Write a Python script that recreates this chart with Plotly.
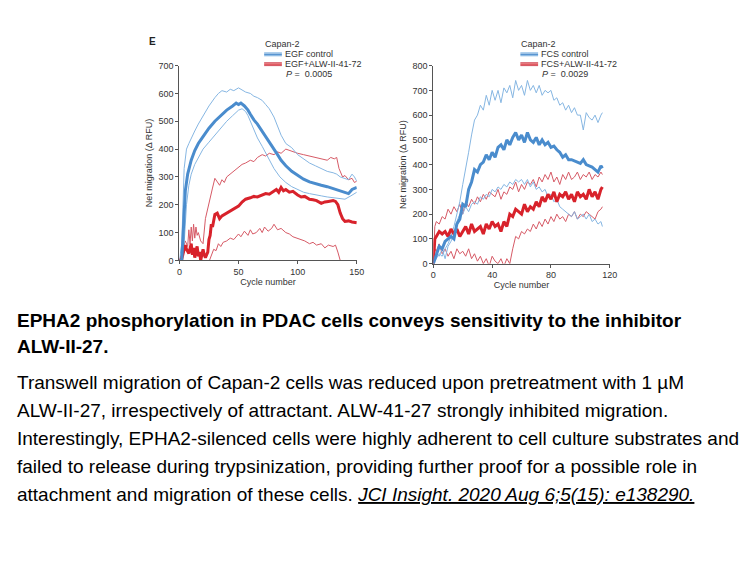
import plotly.graph_objects as go

# ---------------- data: left panel (EGF) ----------------
egf_ctrl_x = [0,2,3,4,5,7,10,13,16,20,25,30,35,40,45,48,50,52,55,58,60,63,66,70,73,76,80,83,86,90,95,100,105,110,115,120,125,130,135,140,143,146,150]
egf_ctrl_y = [0,0,80,180,250,310,360,395,420,445,475,500,520,540,555,565,560,565,555,540,525,505,490,465,445,425,400,380,360,340,320,305,292,282,275,270,265,258,252,245,240,255,262]

egf_ctrl_hi_x = [0,2,4,6,8,10,13,16,20,25,30,33,36,40,43,46,50,53,56,60,63,66,70,73,76,80,83,86,90,95,100,105,110,115,120,125,130,133,136,140,143,146,148,150]
egf_ctrl_hi_y = [0,60,330,400,420,440,465,490,520,555,585,600,610,605,615,610,620,612,605,600,590,585,575,560,545,515,480,450,420,405,380,365,350,340,330,320,315,310,300,295,290,310,300,285]

egf_ctrl_lo_x = [0,2,4,6,8,10,13,16,20,25,30,35,40,45,50,53,56,58,60,63,66,70,73,76,80,85,90,95,100,105,110,115,120,125,130,135,140,145,150]
egf_ctrl_lo_y = [0,0,60,200,270,310,345,370,400,425,450,475,500,520,540,545,535,520,500,470,440,410,385,360,330,300,280,265,255,245,240,235,232,228,225,222,220,232,245]

egf_alw_x = [0,2,4,5,6,8,10,11,12,13,14,15,16,17,18,20,21,22,24,25,26,27,28,30,32,34,36,38,40,43,46,50,53,56,60,63,66,70,73,76,80,82,84,86,88,90,93,96,100,103,106,110,113,116,120,123,126,130,132,134,136,138,140,143,146,150]
egf_alw_y = [0,5,40,55,40,25,60,20,45,10,35,50,15,30,0,40,20,10,30,75,90,130,120,165,170,150,160,165,170,180,185,195,210,220,225,230,228,235,240,238,250,255,245,262,250,255,245,248,235,228,230,220,218,215,205,210,212,215,212,200,170,150,140,142,138,135]

egf_alw_hi_x = [0,3,5,7,8,9,10,11,12,13,14,15,16,18,20,22,24,26,28,30,32,34,36,38,40,43,46,50,53,56,60,63,66,70,73,76,80,83,86,90,93,96,100,105,110,115,120,125,128,131,133,135,138,140,143,146,148,150]
egf_alw_hi_y = [0,40,70,50,110,60,120,70,130,80,120,90,100,70,60,150,190,230,260,295,280,270,290,280,300,310,320,335,345,350,360,355,370,380,375,385,380,390,385,400,395,390,385,380,375,370,365,360,370,365,370,330,300,305,290,295,280,285]

egf_alw_lo_x = [0,5,10,15,20,25,27,29,31,33,35,37,40,43,46,50,52,55,58,60,62,65,68,70,72,75,78,80,83,86,90,93,96,100,103,106,110,113,116,120,123,126,130,132,134,136,138]
egf_alw_lo_y = [-40,-40,-40,-40,-40,-5,20,40,35,60,50,65,70,80,75,95,85,105,90,110,95,100,115,100,120,105,115,130,110,115,100,95,85,80,75,70,60,65,55,60,45,55,50,55,30,0,-30]

# ---------------- data: right panel (FCS) ----------------
fcs_x = [0,2,4,6,8,10,12,14,16,18,20,22,24,26,28,30,32,34,36,38,40,42,44,46,48,50,52,54,56,58,60,62,64,66,68,70,72,74,76,78,80,82,84,86,88,90,92,94,96,98,100,102,104,106,108,110,112,114,115]
fcs_ctrl_y = [0,40,70,60,90,100,110,100,160,180,240,230,300,330,380,370,400,410,440,420,450,430,470,480,460,500,480,510,530,500,520,490,530,500,490,510,480,500,480,490,470,475,460,450,430,440,420,420,415,410,405,420,400,395,390,380,370,395,385]
fcs_ctrl_hi_y = [0,20,40,30,60,80,110,150,200,250,320,380,450,520,580,600,640,620,680,640,700,660,700,650,710,690,720,670,740,700,720,680,740,700,720,690,720,680,700,690,700,660,670,640,650,620,640,610,630,600,600,540,610,590,580,600,570,600,610]
fcs_ctrl_lo_y = [0,40,30,60,20,70,90,120,170,200,200,230,210,240,250,240,270,260,280,270,300,290,310,300,320,310,330,320,340,330,340,320,340,310,330,300,310,290,300,270,280,250,260,230,220,210,200,190,210,180,190,200,180,200,170,180,160,170,150]

fcs_alw_x = [0,1,2,4,6,8,10,12,14,16,18,20,22,24,26,28,30,32,34,36,38,40,42,44,46,48,50,52,54,56,58,60,62,64,66,68,70,72,74,76,78,80,82,84,86,88,90,92,94,96,98,100,102,104,106,108,110,112,114,115]
fcs_alw_y = [0,100,110,130,120,130,110,140,120,140,110,130,150,120,160,130,140,150,120,160,140,170,150,160,130,170,150,200,190,220,210,200,240,210,230,220,250,230,270,250,280,260,290,250,280,270,290,260,280,250,290,270,280,260,300,270,290,260,300,310]
fcs_alw_hi_y = [0,150,170,160,190,180,220,200,230,210,240,200,250,230,260,240,270,250,280,260,290,280,270,300,260,290,280,310,300,330,290,320,300,330,320,340,310,350,330,360,340,370,330,350,320,360,340,370,340,350,370,340,360,350,370,340,360,350,370,360]
fcs_alw_lo_y = [0,60,50,80,40,60,30,50,20,60,40,50,30,60,20,40,10,30,0,20,-10,30,10,0,20,-10,20,0,60,110,100,130,120,140,130,160,140,170,150,180,160,190,170,200,180,190,170,200,190,210,180,200,190,210,200,190,180,210,220,230]

left_xticks = [0, 50, 100, 150]
right_xticks = [0, 40, 80, 120]

BLUE = "#4a8ccd"
BLUE_T = "#86b6e2"
RED = "#d8222b"
RED_T = "#d65a66"

fig = go.Figure()

def add(x, y, color, width, xa, ya):
    n = min(len(x), len(y))
    fig.add_trace(go.Scatter(x=x[:n], y=y[:n], mode="lines",
                             line=dict(color=color, width=width),
                             xaxis=xa, yaxis=ya, showlegend=False,
                             hoverinfo="skip"))

# left panel
add(egf_alw_lo_x, egf_alw_lo_y, RED_T, 1, "x", "y")
add(egf_alw_hi_x, egf_alw_hi_y, RED_T, 1, "x", "y")
add(egf_ctrl_lo_x, egf_ctrl_lo_y, BLUE_T, 1, "x", "y")
add(egf_ctrl_hi_x, egf_ctrl_hi_y, BLUE_T, 1, "x", "y")
add(egf_alw_x, egf_alw_y, RED, 3, "x", "y")
add(egf_ctrl_x, egf_ctrl_y, BLUE, 3, "x", "y")
# right panel
add(fcs_alw_x, fcs_alw_lo_y, RED_T, 1, "x2", "y2")
add(fcs_alw_x, fcs_alw_hi_y, RED_T, 1, "x2", "y2")
add(fcs_x, fcs_ctrl_lo_y, BLUE_T, 1, "x2", "y2")
add(fcs_x, fcs_ctrl_hi_y, BLUE_T, 1, "x2", "y2")
add(fcs_alw_x, fcs_alw_y, RED, 3, "x2", "y2")
add(fcs_x, fcs_ctrl_y, BLUE, 3, "x2", "y2")

W, H = 756, 567
def px(xp): return xp / W
def py(yp): return 1 - yp / H

axfont = dict(family="Arial, Liberation Sans, sans-serif", size=9, color="#333333")
common_axis = dict(showline=True, linecolor="#555555", linewidth=1, ticks="outside",
                   ticklen=3, tickcolor="#555555", showgrid=False, zeroline=False,
                   tickfont=axfont, fixedrange=True)

fig.update_layout(
    width=W, height=H,
    margin=dict(l=0, r=0, t=0, b=0),
    paper_bgcolor="white", plot_bgcolor="white",
    showlegend=False,
    xaxis=dict(domain=[px(179), px(359)], range=[0, 150], tickvals=left_xticks,
               anchor="y", title=dict(text="Cycle number", font=axfont, standoff=2), **common_axis),
    yaxis=dict(domain=[py(260), py(61.7)], range=[0, 700], dtick=100,
               anchor="x", title=dict(text="Net migration (Δ RFU)", font=axfont, standoff=4), **common_axis),
    xaxis2=dict(domain=[px(436.7), px(615.7)], range=[0, 120], tickvals=right_xticks,
                anchor="y2", title=dict(text="Cycle number", font=axfont, standoff=2), **common_axis),
    yaxis2=dict(domain=[py(263.3), py(61.7)], range=[0, 800], dtick=100,
                anchor="x2", title=dict(text="Net migration (Δ RFU)", font=axfont, standoff=4), **common_axis),
)

ann = []
shapes = []
lf = dict(family="Arial, Liberation Sans, sans-serif", size=9, color="#333333")

def legend(x0, labels, pval):
    ann.append(dict(x=px(x0 - 1), y=py(39.5), text="Capan-2", font=lf, xanchor="left", yanchor="middle",
                    showarrow=False, xref="paper", yref="paper"))
    ann.append(dict(x=px(x0 + 19), y=py(50), text=labels[0], font=lf, xanchor="left", yanchor="middle",
                    showarrow=False, xref="paper", yref="paper"))
    ann.append(dict(x=px(x0 + 19), y=py(60), text=labels[1], font=lf, xanchor="left", yanchor="middle",
                    showarrow=False, xref="paper", yref="paper"))
    ann.append(dict(x=px(x0 + 20), y=py(70.5), text="<i>P</i> =  " + pval, font=lf, xanchor="left",
                    yanchor="middle", showarrow=False, xref="paper", yref="paper"))
    for yy, c in [(48.8, BLUE_T), (50.2, BLUE), (51.6, BLUE_T)]:
        shapes.append(dict(type="line", xref="paper", yref="paper", x0=px(x0), x1=px(x0 + 18),
                           y0=py(yy), y1=py(yy), line=dict(color=c, width=1.2)))
    for yy, c in [(58.8, RED_T), (60.2, RED), (61.6, RED_T)]:
        shapes.append(dict(type="line", xref="paper", yref="paper", x0=px(x0), x1=px(x0 + 18),
                           y0=py(yy), y1=py(yy), line=dict(color=c, width=1.2)))

legend(265, ["EGF control", "EGF+ALW-II-41-72"], "0.0005")
legend(525, ["FCS control", "FCS+ALW-II-41-72"], "0.0029")

ann.append(dict(x=px(146), y=py(37.5), text="<b>E</b>", showarrow=False, xanchor="left", yanchor="middle",
                xref="paper", yref="paper",
                font=dict(family="Arial, Liberation Sans, sans-serif", size=10, color="#222222")))

cf = dict(family="Arial, Liberation Sans, sans-serif", size=19, color="#000000")
caption = [
    (321, "<b>EPHA2 phosphorylation in PDAC cells conveys sensitivity to the inhibitor</b>"),
    (348, "<b>ALW-II-27.</b>"),
    (384, "Transwell migration of Capan-2 cells was reduced upon pretreatment with 1 µM"),
    (413, "ALW-II-27, irrespectively of attractant. ALW-41-27 strongly inhibited migration."),
    (441, "Interestingly, EPHA2-silenced cells were highly adherent to cell culture substrates and"),
    (470, "failed to release during trypsinization, providing further proof for a possible role in"),
    (498, "attachment and migration of these cells. <i><u>JCI Insight. 2020 Aug 6;5(15): e138290.</u></i>"),
]
for yy, t in caption:
    ann.append(dict(x=px(12), y=py(yy), text=t, font=cf, xanchor="left", yanchor="middle",
                    showarrow=False, xref="paper", yref="paper", align="left"))

fig.update_layout(annotations=ann, shapes=shapes)
fig.write_html("out.html", config={"displayModeBar": False})
